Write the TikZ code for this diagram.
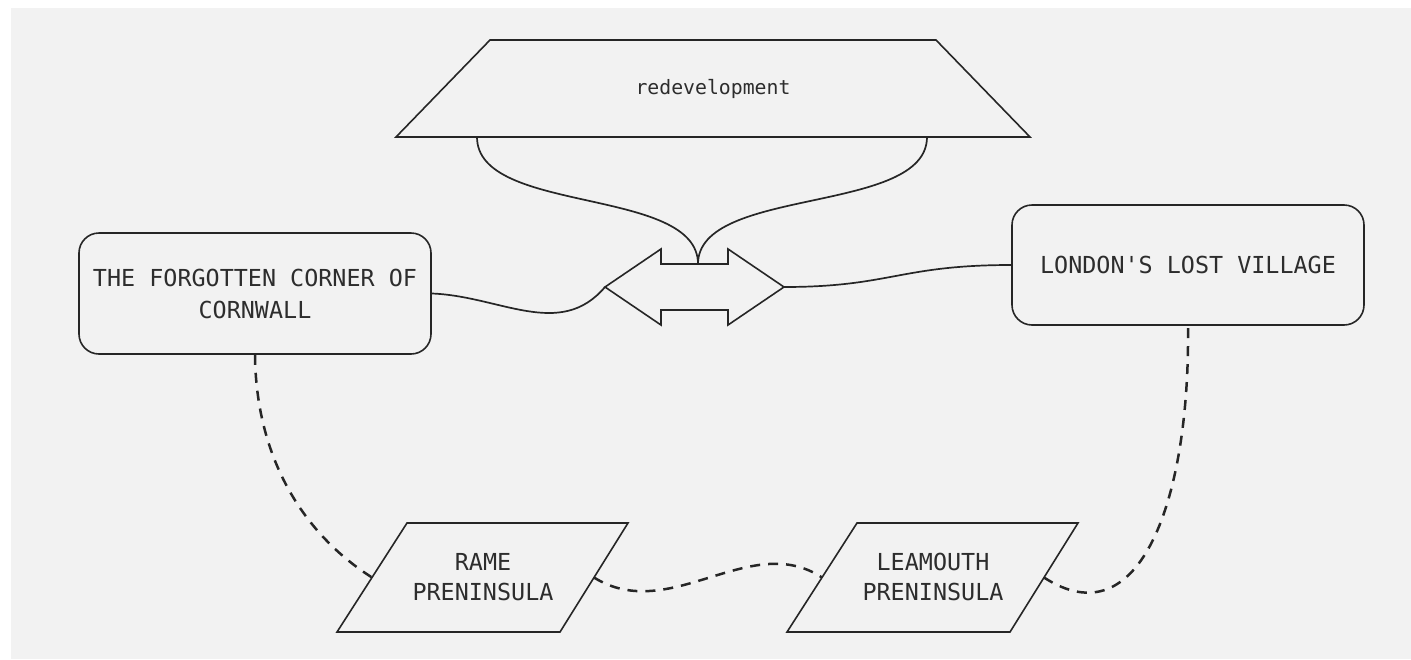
\documentclass[tikz,border=0pt]{standalone}
\usepackage{fontspec}
\newfontfamily\monof{DejaVu Sans Mono}
\definecolor{bgc}{RGB}{242,242,242}
\definecolor{lnc}{RGB}{38,38,38}
\definecolor{txc}{RGB}{45,45,45}
\begin{document}
\begin{tikzpicture}[x=1pt,y=-1pt,
  shapeline/.style={draw=lnc, line width=1.6pt, line join=miter},
  conn/.style={draw=lnc, line width=1.7pt},
  dconn/.style={draw=lnc, line width=2.5pt, dash pattern=on 10pt off 8pt},
  boxnode/.style={draw=lnc, line width=1.6pt, rounded corners=20pt, minimum width=352pt, minimum height=121pt, inner sep=0pt, text=txc, align=center, font=\monof\fontsize{23.4}{32}\selectfont},
  biglbl/.style={text=txc, align=center, inner sep=0pt, font=\monof\fontsize{23.4}{30}\selectfont},
  smalllbl/.style={text=txc, inner sep=0pt, font=\monof\fontsize{19.8}{24}\selectfont}]
\useasboundingbox (0,0) rectangle (1411,659);
\fill[bgc] (11,8) rectangle (1411,659);

% trapezoid
\draw[shapeline] (490,40) -- (936,40) -- (1030,137) -- (396,137) -- cycle;
\node[smalllbl] (redev) at (713,89) {redevelopment};
\coordinate (rL) at (477,137);
\coordinate (rR) at (927,137);

% boxes
\node[boxnode] (lbox) at (255,293.5) {THE FORGOTTEN CORNER OF\\CORNWALL};
\node[boxnode, minimum height=120pt] (rbox) at (1188,265) {LONDON'S LOST VILLAGE};

% double arrow
\draw[shapeline] (605,287) -- (661,249) -- (661,264) -- (728,264) -- (728,249) -- (784,287)
  -- (728,325) -- (728,310) -- (661,310) -- (661,325) -- cycle;
\coordinate (aL) at (605,287);
\coordinate (aR) at (784,287);
\coordinate (aT) at (698,264);

% parallelograms
\draw[shapeline] (407,523) -- (628,523) -- (560,632) -- (337,632) -- cycle;
\node[biglbl] (rame) at (483,577) {RAME\\PRENINSULA};
\coordinate (rameW) at (372,577.5);
\coordinate (rameE) at (594,577.5);
\draw[shapeline] (857,523) -- (1078,523) -- (1010,632) -- (787,632) -- cycle;
\node[biglbl] (lea) at (933,577) {LEAMOUTH\\PRENINSULA};
\coordinate (leaW) at (822,577.5);
\coordinate (leaE) at (1044,577.5);

% connectors
\draw[conn] (lbox.east) .. controls (500,296) and (560,340) .. (aL);
\draw[conn] (aR) .. controls (890,287) and (900,265) .. (rbox.west);
\draw[conn] (rL) .. controls (477,215) and (698,186) .. (aT);
\draw[conn] (rR) .. controls (927,215) and (698,186) .. (aT);
\draw[dconn] (lbox.south) .. controls (256,460) and (305,535) .. (rameW);
\draw[dconn] (rameE) .. controls (670,625) and (750,530) .. (leaW);
\draw[dconn] (leaE) .. controls (1140,640) and (1190,500) .. (rbox.south);
\end{tikzpicture}
\end{document}
